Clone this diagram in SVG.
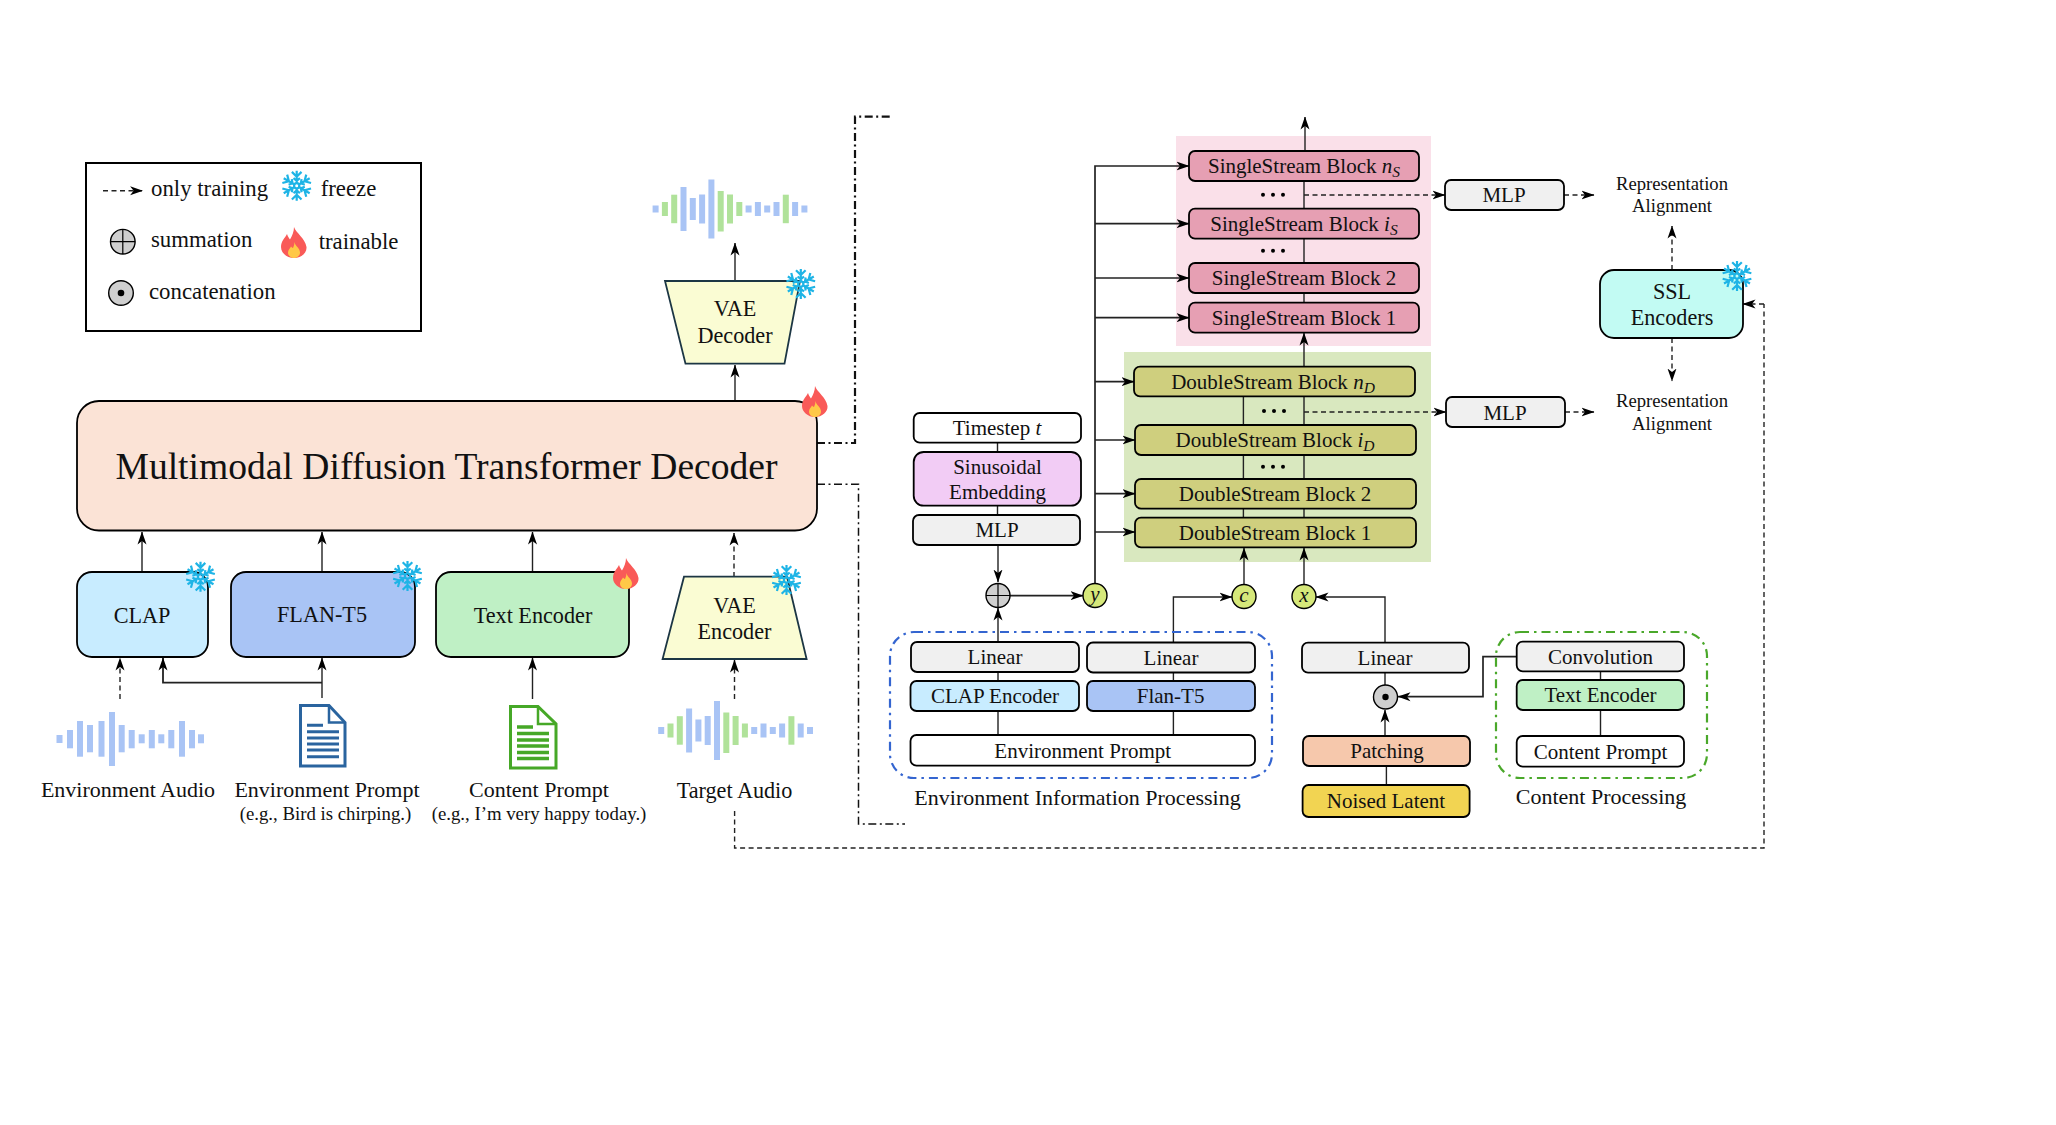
<svg xmlns="http://www.w3.org/2000/svg" width="2056" height="1125" viewBox="0 0 2056 1125">
<style>
text{font-family:"Liberation Serif","Times New Roman",serif;fill:#111;text-anchor:middle;font-size:21px}
.l{text-anchor:start;font-size:22.800px}
.big{font-size:37.600px}
.m{font-size:22.200px}
.lb{font-size:22px}
.s{font-size:18.800px}
.r{font-size:18.700px}
.i{font-style:italic}
.sub{font-style:italic;font-size:15.500px}
.b{stroke:#000;stroke-width:1.800}
.w{fill:#fff}.g{fill:#f0f0f0}.p{fill:#e69fb3}.o{fill:#cfcf7e}
.c{fill:none;stroke:#222;stroke-width:1.400}
.d{fill:none;stroke:#222;stroke-width:1.400;stroke-dasharray:5 3.500}
.dd{fill:none;stroke:#111;stroke-dasharray:8 3.500 2 3.500}
.ah{marker-end:url(#a)}
.sn{fill:none;stroke:#1eb4e6;stroke-width:2.200}
.bl{fill:#a9c4f5}.gr{fill:#b0e29a}
.tok{stroke:#000;stroke-width:1.400;fill:#d6e87a}
.op{stroke:#000;stroke-width:1.400;fill:#cfcfcf}
.dot{fill:#000}
</style>
<defs>
<marker id="a" markerUnits="userSpaceOnUse" markerWidth="13" markerHeight="10" viewBox="0 0 13 10" refX="12.500" refY="5" orient="auto"><path d="M13,5 L0,0.500 L3.500,5 L0,9.500 Z" fill="#000"/></marker>
<g id="arm"><path class="sn" d="M0,-2.500V-15M-4.800,-13.800L0,-9L4.800,-13.800M-3.200,-7.500L0,-4.800L3.200,-7.500"/></g>
<g id="snow"><use href="#arm"/><use href="#arm" transform="rotate(60)"/><use href="#arm" transform="rotate(120)"/><use href="#arm" transform="rotate(180)"/><use href="#arm" transform="rotate(240)"/><use href="#arm" transform="rotate(300)"/><circle class="sn" r="2.600"/></g>
<g id="flame"><path fill="#f95a58" d="M13,0C15,6 24,11 25.500,20C26,26 20,31 13,31C6,31 0,26 0,20C0,14 4,11 6,7C7,10 8,11 9,12.500C11,9 13,5 13,0Z"/><path fill="#ffc847" d="M13.500,15C14,19 19,21 19,25.500C19,28.500 16.500,31 13,31C9.500,31 7,28.500 7,25.500C7,23 9,21.500 10,19.500C11,20.500 12,21 12,21C13,19 13.500,17 13.500,15Z"/></g>
<g id="wave">
<rect class="bl" x="-77.400" y="-3.500" width="6" height="7"/><rect class="gr" x="-68.100" y="-7" width="6" height="14"/><rect class="gr" x="-58.800" y="-14.300" width="6" height="28.500"/><rect class="bl" x="-49.500" y="-22" width="6" height="44"/><rect class="bl" x="-40.200" y="-11" width="6" height="22"/><rect class="bl" x="-30.900" y="-14.500" width="6" height="29"/><rect class="bl" x="-21.600" y="-29.500" width="6" height="59"/><rect class="gr" x="-12.300" y="-18" width="6" height="40.500"/><rect class="gr" x="-3" y="-14.500" width="6" height="29"/><rect class="gr" x="6.300" y="-7" width="6" height="14"/><rect class="bl" x="15.600" y="-3.500" width="6" height="7"/><rect class="bl" x="24.900" y="-7" width="6" height="14"/><rect class="bl" x="34.200" y="-3.500" width="6" height="7"/><rect class="bl" x="43.500" y="-7" width="6" height="14"/><rect class="gr" x="52.800" y="-14.300" width="6" height="28.500"/><rect class="bl" x="62.100" y="-7" width="6" height="14"/><rect class="bl" x="71.400" y="-3.500" width="6" height="7"/>
</g>
</defs>

<g id="backgrounds">
<rect x="1176" y="136" width="255" height="210" fill="#fae0e9"/>
<rect x="1124" y="352" width="307" height="210" fill="#d9e8bf"/>
</g>

<g id="connectors">
<path class="c ah" d="M735,401V365"/>
<path class="c ah" d="M735,281V243"/>
<path class="c ah" d="M142,572V532"/>
<path class="c ah" d="M322,572V532"/>
<path class="c ah" d="M532.500,572V532"/>
<path class="d ah" d="M734,577V533"/>
<path class="d ah" d="M120,699V658"/>
<path class="c ah" d="M322,698V658"/>
<path class="c ah" style="stroke-width:1.800" d="M322,682.700H163V658"/>
<path class="c ah" d="M532.500,699V658"/>
<path class="d ah" d="M734.500,699V660"/>
<path class="d" d="M734.600,811V848H1764V304"/>
<path class="d ah" d="M1764,304H1743"/>
<path class="dd" style="stroke-width:2.200" d="M817,443H855V116.700H892"/>
<path class="dd" style="stroke-width:1.500" d="M817,484.300H858.500V824H905"/>
<path class="c ah" style="stroke-width:1.700" d="M1095,583V166H1189"/>
<path class="c ah" style="stroke-width:1.700" d="M1095,223.700H1189"/>
<path class="c ah" style="stroke-width:1.700" d="M1095,278H1189"/>
<path class="c ah" style="stroke-width:1.700" d="M1095,317.700H1189"/>
<path class="c ah" style="stroke-width:1.700" d="M1095,381.700H1134"/>
<path class="c ah" style="stroke-width:1.700" d="M1095,440H1135"/>
<path class="c ah" style="stroke-width:1.700" d="M1095,493.700H1135"/>
<path class="c ah" style="stroke-width:1.700" d="M1095,532H1135"/>
<path class="c ah" d="M1305,151V117"/>
<path class="c" d="M1304,181V263M1304,293V303"/>
<path class="c ah" d="M1304,367V333"/>
<path class="c" d="M1304,396V518M1243.400,396V518"/>
<path class="c ah" d="M1244,584V548"/>
<path class="c ah" d="M1304,584V548"/>
<path class="d ah" d="M1304,195H1445"/>
<path class="d ah" d="M1304,412H1446"/>
<path class="d ah" d="M1564,195H1594"/>
<path class="d ah" d="M1565,412H1594"/>
<path class="d ah" d="M1672,270V226"/>
<path class="d ah" d="M1672,338V381"/>
<path class="c" d="M997.500,442V452M997.500,505V515"/>
<path class="c ah" d="M998,545V582"/>
<path class="c ah" d="M998,642V608"/>
<path class="c ah" style="stroke-width:1.700" d="M1010,595.700H1083"/>
<path class="c ah" d="M1173.400,642V597H1232"/>
<path class="c ah" d="M1385,642V597H1316"/>
<path class="c" d="M998,672V681M998,711V735M1173.400,672V681M1173.400,711V735"/>
<path class="c" d="M1385,672V685"/>
<path class="c ah" d="M1385,736V710"/>
<path class="c" d="M1386.400,766V785"/>
<path class="c" d="M1600.500,671V680M1600.500,710V736"/>
<path class="c ah" style="stroke-width:1.700" d="M1517,656.700H1483V696.700H1398"/>
</g>

<g id="legend">
<rect x="86" y="163" width="335" height="168" fill="#fff" stroke="#000" stroke-width="2"/>
<path class="d ah" d="M103,190.700H142.600"/>
<text class="l" x="151" y="195.700">only training</text>
<use href="#snow" x="296.700" y="185.700"/>
<text class="l" x="320.700" y="195.700">freeze</text>
<circle class="op" cx="122.800" cy="241.700" r="12.300"/><path stroke="#000" stroke-width="1.200" d="M110.500,241.700H135.100M122.800,229.400V254"/>
<text class="l" x="151" y="246.700">summation</text>
<use href="#flame" x="281" y="227"/>
<text class="l" x="318.700" y="248.700">trainable</text>
<circle class="op" cx="121" cy="293" r="12.300"/><circle class="dot" cx="121" cy="293" r="3.300"/>
<text class="l" x="149" y="298.700">concatenation</text>
</g>

<g id="node-decoder"><rect class="b" x="77" y="401" width="740" height="129.500" rx="22" fill="#fbe3d6"/><text class="big" x="446.500" y="479">Multimodal Diffusion Transformer Decoder</text><use href="#flame" x="802" y="386"/></g>
<g id="node-vae-decoder"><path d="M665,281H800L784.500,363.700H685.500Z" fill="#fafcd3" stroke="#1c3644" stroke-width="1.800"/><text class="m" x="735" y="316">VAE</text><text class="m" x="735" y="343">Decoder</text><use href="#snow" x="800.800" y="284"/></g>
<g id="wave-output"><use href="#wave" x="730" y="209"/></g>
<g id="node-clap"><rect class="b" x="77" y="572" width="131" height="85" rx="15" fill="#c8ecff"/><text class="m" x="142" y="623">CLAP</text><use href="#snow" x="200.500" y="576.700"/></g>
<g id="node-flan"><rect class="b" x="231" y="572" width="184" height="85" rx="15" fill="#a9c4f5"/><text class="m" x="322" y="622">FLAN-T5</text><use href="#snow" x="407.500" y="576"/></g>
<g id="node-text-encoder"><rect class="b" x="436" y="572" width="193" height="85" rx="15" fill="#bff0c5"/><text class="m" x="533" y="623">Text Encoder</text><use href="#flame" x="613" y="558"/></g>
<g id="node-vae-encoder"><path d="M684,576.700H787L806.600,659H662.600Z" fill="#fafcd3" stroke="#1c3644" stroke-width="1.800"/><text class="m" x="734.500" y="613">VAE</text><text class="m" x="734.500" y="639">Encoder</text><use href="#snow" x="786.500" y="580"/></g>

<g id="node-env-audio">
<g class="bl"><rect x="56.500" y="735" width="6" height="8"/><rect x="67" y="730" width="6" height="18.300"/><rect x="77" y="721" width="6" height="35.700"/><rect x="87" y="725" width="6" height="27.300"/><rect x="98.500" y="721" width="6" height="35.700"/><rect x="109" y="712" width="6" height="54"/><rect x="118.700" y="725" width="6" height="27.300"/><rect x="128.700" y="730" width="6" height="18.300"/><rect x="138.700" y="734.300" width="6" height="9"/><rect x="148.800" y="730" width="6" height="18.300"/><rect x="158.300" y="734.300" width="6" height="9"/><rect x="168.300" y="730" width="6" height="18.300"/><rect x="179" y="721" width="6" height="35.700"/><rect x="189" y="730" width="6" height="18.300"/><rect x="198" y="734.300" width="6" height="9"/></g>
<text class="lb" x="128" y="796.700">Environment Audio</text>
</g>
<g id="node-env-prompt">
<path d="M300.500,705.500H329L345,722.500V766H300.500Z" fill="#fff" stroke="#2a649f" stroke-width="3"/><path d="M329,705.500V722.500H345" fill="none" stroke="#2a649f" stroke-width="2.500"/>
<path stroke="#2a649f" stroke-width="3" d="M307,725.300H323M307,731.700H339M307,738H339M307,744H339M307,750H339M307,756.700H339"/>
<text class="lb" x="327" y="797">Environment Prompt</text><text class="s" x="325.500" y="820">(e.g., Bird is chirping.)</text>
</g>
<g id="node-content-prompt">
<path d="M510.500,706.500H538L556,724V768H510.500Z" fill="#fff" stroke="#46a827" stroke-width="3"/><path d="M538,706.500V724H556" fill="none" stroke="#46a827" stroke-width="2.500"/>
<path stroke="#46a827" stroke-width="3.600" d="M517,727H533M517,733.500H549M517,740H549M517,746H549M517,752.500H549M517,758.500H549"/>
<text class="lb" x="539" y="797">Content Prompt</text><text class="s" x="539" y="820">(e.g., I’m very happy today.)</text>
</g>
<g id="node-target-audio"><use href="#wave" x="735.600" y="730.500"/><text class="m" x="734.500" y="798">Target Audio</text></g>

<g id="node-ss-n"><rect class="b p" x="1189" y="151" width="230" height="30" rx="6"/><text x="1304" y="172.700">SingleStream Block <tspan class="i">n</tspan><tspan class="sub" dy="4">S</tspan></text></g>
<g id="node-ss-i"><rect class="b p" x="1189" y="208.700" width="230" height="30" rx="6"/><text x="1304" y="230.700">SingleStream Block <tspan class="i">i</tspan><tspan class="sub" dy="4">S</tspan></text></g>
<g id="node-ss-2"><rect class="b p" x="1189" y="263" width="230" height="30" rx="6"/><text x="1304" y="285">SingleStream Block 2</text></g>
<g id="node-ss-1"><rect class="b p" x="1189" y="302.700" width="230" height="30" rx="6"/><text x="1304" y="325">SingleStream Block 1</text></g>
<g id="dots-ss"><g class="dot"><circle cx="1263" cy="194.700" r="2"/><circle cx="1273" cy="194.700" r="2"/><circle cx="1283" cy="194.700" r="2"/><circle cx="1263" cy="250.700" r="2"/><circle cx="1273" cy="250.700" r="2"/><circle cx="1283" cy="250.700" r="2"/></g></g>
<g id="node-ds-n"><rect class="b o" x="1134" y="366.700" width="281" height="29.600" rx="6"/><text x="1273" y="389">DoubleStream Block <tspan class="i">n</tspan><tspan class="sub" dy="4">D</tspan></text></g>
<g id="node-ds-i"><rect class="b o" x="1135" y="425" width="281" height="30" rx="6"/><text x="1275" y="447">DoubleStream Block <tspan class="i">i</tspan><tspan class="sub" dy="4">D</tspan></text></g>
<g id="node-ds-2"><rect class="b o" x="1135" y="479" width="281" height="29.700" rx="6"/><text x="1275" y="501">DoubleStream Block 2</text></g>
<g id="node-ds-1"><rect class="b o" x="1135" y="517.700" width="281" height="29.600" rx="6"/><text x="1275" y="540">DoubleStream Block 1</text></g>
<g id="dots-ds"><g class="dot"><circle cx="1264" cy="411" r="2"/><circle cx="1274" cy="411" r="2"/><circle cx="1284" cy="411" r="2"/><circle cx="1263" cy="466.700" r="2"/><circle cx="1273" cy="466.700" r="2"/><circle cx="1283" cy="466.700" r="2"/></g></g>

<g id="node-mlp-top"><rect class="b g" x="1445" y="180" width="119" height="30" rx="6"/><text x="1504" y="202">MLP</text></g>
<g id="node-mlp-bottom"><rect class="b g" x="1446" y="397" width="119" height="30" rx="6"/><text x="1505" y="420">MLP</text></g>
<g id="label-ra-top"><text class="r" x="1672" y="190">Representation</text><text class="r" x="1672" y="212">Alignment</text></g>
<g id="label-ra-bottom"><text class="r" x="1672" y="407">Representation</text><text class="r" x="1672" y="430">Alignment</text></g>
<g id="node-ssl"><rect class="b" x="1600" y="270" width="143" height="68" rx="14" fill="#c2fbf3"/><text class="m" x="1672" y="299">SSL</text><text class="m" x="1672" y="325">Encoders</text><use href="#snow" x="1737" y="276"/></g>

<g id="node-timestep"><rect class="b w" x="913.700" y="413" width="167.300" height="29.700" rx="6"/><text x="997" y="435">Timestep <tspan class="i">t</tspan></text></g>
<g id="node-sinusoidal"><rect class="b" x="913.700" y="452" width="167.300" height="53.700" rx="10" fill="#f2ccf5"/><text x="997.500" y="474">Sinusoidal</text><text x="997.500" y="499">Embedding</text></g>
<g id="node-mlp-t"><rect class="b g" x="913" y="515" width="167" height="30" rx="6"/><text x="997" y="536.700">MLP</text></g>
<g id="node-sum"><circle class="op" cx="998" cy="595.500" r="12"/><path stroke="#000" stroke-width="1.200" d="M986,595.500H1010M998,583.500V607.500"/></g>
<g id="node-y"><circle class="tok" cx="1095" cy="595.500" r="12"/><text class="i" x="1095" y="601">y</text></g>
<g id="node-c"><circle class="tok" cx="1244" cy="596.500" r="12"/><text class="i" x="1244" y="602">c</text></g>
<g id="node-x"><circle class="tok" cx="1304" cy="596.500" r="12"/><text class="i" x="1304" y="602">x</text></g>

<g id="group-env"><rect x="890" y="632" width="382" height="146" rx="24" fill="none" stroke="#3465d0" stroke-width="2.200" stroke-dasharray="9 5 2.500 5"/><text class="lb" x="1077.500" y="805">Environment Information Processing</text></g>
<g id="group-content"><rect x="1496" y="632" width="211" height="146" rx="24" fill="none" stroke="#4aa82a" stroke-width="2.200" stroke-dasharray="9 5 2.500 5"/><text class="lb" x="1601" y="804">Content Processing</text></g>
<g id="node-linear-1"><rect class="b g" x="911" y="642" width="168" height="30" rx="6"/><text x="995" y="664">Linear</text></g>
<g id="node-linear-2"><rect class="b g" x="1087" y="642.500" width="168" height="30" rx="6"/><text x="1171" y="664.500">Linear</text></g>
<g id="node-clap-encoder"><rect class="b" x="910.500" y="681" width="168.500" height="30" rx="6" fill="#c8ecff"/><text x="995" y="702.700">CLAP Encoder</text></g>
<g id="node-flan-t5"><rect class="b" x="1087" y="681" width="168" height="30" rx="6" fill="#a9c4f5"/><text x="1170.600" y="702.700">Flan-T5</text></g>
<g id="node-env-prompt-box"><rect class="b w" x="910.500" y="735" width="344.500" height="30.700" rx="6"/><text x="1082.700" y="757.700">Environment Prompt</text></g>
<g id="node-linear-3"><rect class="b g" x="1302" y="642.700" width="167" height="30" rx="6"/><text x="1385" y="664.700">Linear</text></g>
<g id="node-concat"><circle class="op" cx="1385.500" cy="697" r="12"/><circle class="dot" cx="1385.500" cy="697" r="3.200"/></g>
<g id="node-patching"><rect class="b" x="1303" y="736" width="167" height="30" rx="6" fill="#f6c8ac"/><text x="1387" y="758">Patching</text></g>
<g id="node-noised"><rect class="b" x="1302.600" y="785" width="167" height="32" rx="6" fill="#f2d452"/><text x="1386" y="808">Noised Latent</text></g>
<g id="node-convolution"><rect class="b g" x="1516.700" y="641.700" width="167.300" height="29.600" rx="6"/><text x="1600.500" y="664">Convolution</text></g>
<g id="node-text-encoder-2"><rect class="b" x="1516.700" y="680" width="167.300" height="30" rx="6" fill="#bff0c5"/><text x="1600.500" y="702">Text Encoder</text></g>
<g id="node-content-box"><rect class="b w" x="1516.700" y="736" width="167.300" height="30.700" rx="6"/><text x="1600.500" y="759">Content Prompt</text></g>
</svg>
